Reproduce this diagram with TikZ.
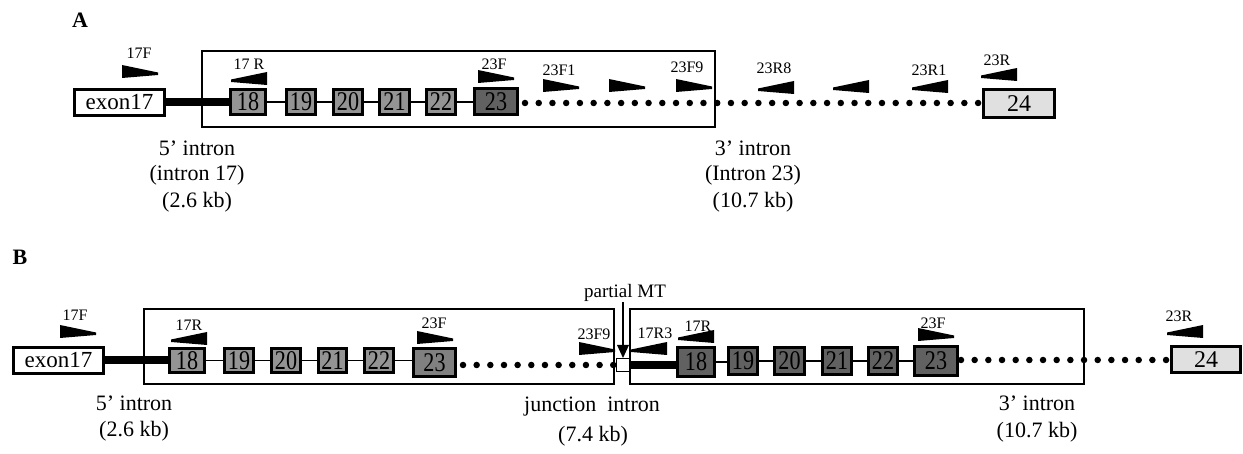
\documentclass[tikz,border=0pt]{standalone}
\usepackage{fontspec}
\setmainfont{Liberation Serif}
\newcommand{\exnum}[1]{\scalebox{0.82}[1]{#1}}
\begin{document}
\begin{tikzpicture}[x=1pt,y=-1pt,
  exon/.style={draw=black, line width=2.8pt, fill=black!42, inner sep=0pt,
    minimum width=35pt, minimum height=25pt, font=\fontsize{27}{27}\selectfont},
  exondark/.style={exon, fill=black!62},
  endexon/.style={exon, fill=white, font=\fontsize{23}{23}\selectfont},
  lastexon/.style={exon, fill=black!12, font=\fontsize{24}{24}\selectfont},
  primerlbl/.style={inner sep=0pt, font=\fontsize{16}{16}\selectfont},
  txt/.style={inner sep=0pt, font=\fontsize{22}{22}\selectfont},
  panel/.style={inner sep=0pt, font=\fontsize{22}{22}\selectfont\bfseries},
  regionbox/.style={draw=black, line width=1.3pt},
  thickline/.style={line width=8pt},
  thinline/.style={line width=1.4pt},
  dots/.style={line width=6.5pt, line cap=round},
  primerfwd/.pic={\fill (0,0) -- (0,13) -- (36,10) -- (36,7.5) -- cycle;},
  primerrev/.pic={\fill (36,0) -- (36,13) -- (0,10) -- (0,7.5) -- cycle;},
]
\useasboundingbox (0,0) rectangle (1243,454);

% ================= Panel A =================
\node[panel] (labA) at (80,20) {A};
\draw[regionbox] (202,51) rectangle (715,127);

\node[endexon, minimum width=90pt, minimum height=26pt] (a17) at (119.5,102.5) {exon17};
\node[exon, minimum width=35pt] (a18) at (248,102) {\exnum{18}};
\node[exon, minimum width=29pt] (a19) at (301,102) {\exnum{19}};
\node[exon, minimum width=29pt] (a20) at (348,102) {\exnum{20}};
\node[exon, minimum width=30pt] (a21) at (394.5,102) {\exnum{21}};
\node[exon, minimum width=29pt] (a22) at (441,102) {\exnum{22}};
\node[exondark, minimum width=43pt, minimum height=26pt] (a23) at (496,101.5) {\exnum{23}};
\node[lastexon, minimum width=71pt, minimum height=28pt] (a24) at (1019,103.5) {24};

\draw[thickline] (a17.east) -- (a17.east -| a18.west);
\draw[thinline] (a18.east) -- (a19.west);
\draw[thinline] (a19.east) -- (a20.west);
\draw[thinline] (a20.east) -- (a21.west);
\draw[thinline] (a21.east) -- (a22.west);
\draw[thinline] (a22.east) -- (a22.east -| a23.west);
\coordinate (dA0) at (525,103);
\draw[dots, dash pattern=on 0pt off 13.73pt] (dA0) -- (dA0 -| a24.west);

\node[primerlbl] (lA17F) at (139,53) {17F};
\node[primerlbl] (lA17R) at (249,64) {17 R};
\node[primerlbl] (lA23F) at (494,64) {23F};
\node[primerlbl] (lA23F1) at (559,70) {23F1};
\node[primerlbl] (lA23F9) at (687,67) {23F9};
\node[primerlbl] (lA23R8) at (774,68) {23R8};
\node[primerlbl] (lA23R1) at (929,70) {23R1};
\node[primerlbl] (lA23R) at (997,60) {23R};

\pic at (122,65) {primerfwd};
\pic at (231,72) {primerrev};
\pic at (478,70) {primerfwd};
\pic at (543,79) {primerfwd};
\pic at (609,79) {primerfwd};
\pic at (676,79) {primerfwd};
\pic at (758,81) {primerrev};
\pic at (833,80) {primerrev};
\pic at (912,80) {primerrev};
\pic at (981,68) {primerrev};

\node[txt] (tA1) at (197,148) {5’ intron};
\node[txt] (tA2) at (197,175) {(intron 17)};
\node[txt] (tA3) at (197,202) {(2.6 kb)};
\node[txt] (tA4) at (753,148) {3’ intron};
\node[txt] (tA5) at (753,175) {(Intron 23)};
\node[txt] (tA6) at (753,202) {(10.7 kb)};

% ================= Panel B =================
\node[panel] (labB) at (20,257) {B};
\draw[regionbox] (144,309) rectangle (614,384);
\draw[regionbox] (630,309) rectangle (1084,384);

\node[endexon, minimum width=90pt, minimum height=26pt] (b17) at (58.5,360.5) {exon17};
\node[exon, minimum width=35pt, minimum height=24pt] (b18) at (187,360.5) {\exnum{18}};
\node[exon, minimum width=29pt, minimum height=24pt] (b19) at (239,360.5) {\exnum{19}};
\node[exon, minimum width=29pt, minimum height=24pt] (b20) at (286,360.5) {\exnum{20}};
\node[exon, minimum width=28pt, minimum height=24pt] (b21) at (332.5,360.5) {\exnum{21}};
\node[exon, minimum width=29pt, minimum height=24pt] (b22) at (379,360.5) {\exnum{22}};
\node[exon, fill=black!50, minimum width=42pt, minimum height=28pt] (b23) at (434.5,362.5) {\exnum{23}};

\node[draw=black, line width=1.2pt, fill=white, minimum width=13pt, minimum height=13pt, inner sep=0pt] (jx) at (623,365) {};

\node[exondark, minimum width=37pt, minimum height=29pt] (c18) at (696,362) {\exnum{18}};
\node[exondark, minimum width=29pt, minimum height=27pt] (c19) at (743,361) {\exnum{19}};
\node[exondark, minimum width=30pt, minimum height=27pt] (c20) at (789.5,361) {\exnum{20}};
\node[exondark, minimum width=29pt, minimum height=27pt] (c21) at (837,361) {\exnum{21}};
\node[exondark, minimum width=29pt, minimum height=27pt] (c22) at (883,361) {\exnum{22}};
\node[exondark, minimum width=43pt, minimum height=29pt] (c23) at (936,361) {\exnum{23}};
\node[lastexon, minimum width=69pt, minimum height=26pt] (c24) at (1206,359.5) {24};

\draw[thickline] (b17.east) -- (b17.east -| b18.west);
\draw[thinline] (b18.east) -- (b19.west);
\draw[thinline] (b19.east) -- (b20.west);
\draw[thinline] (b20.east) -- (b21.west);
\draw[thinline] (b21.east) -- (b22.west);
\draw[thinline] (b22.east) -- (b22.east -| b23.west);
\coordinate (dB0) at (463,365);
\draw[dots, dash pattern=on 0pt off 13.66pt] (dB0) -- (dB0 -| jx.west);

\draw[thickline] (jx.east) -- (jx.east -| c18.west);
\draw[thinline] (c18.east) -- (c18.east -| c19.west);
\draw[thinline] (c19.east) -- (c20.west);
\draw[thinline] (c20.east) -- (c21.west);
\draw[thinline] (c21.east) -- (c22.west);
\draw[thinline] (c22.east) -- (c23.west);
\coordinate (dC0) at (961,360);
\draw[dots, dash pattern=on 0pt off 13.67pt] (dC0) -- (dC0 -| c24.west);

% partial MT pointer
\node[inner sep=0pt, font=\fontsize{19}{19}\selectfont] (pmt) at (625,293) {partial MT};
\coordinate (pmtTip) at (623,358);
\draw[line width=1.2pt] (pmt.south -| pmtTip) -- (623,346);
\fill (617,345) -- (629,345) -- (pmtTip) -- cycle;

\node[primerlbl] (lB17F) at (75,315) {17F};
\node[primerlbl] (lB17R) at (189,325) {17R};
\node[primerlbl] (lB23F) at (434,323) {23F};
\node[primerlbl] (lB23F9) at (594,334) {23F9};
\node[primerlbl] (lB17R3) at (655,333) {17R3};
\node[primerlbl] (lC17R) at (698,326) {17R};
\node[primerlbl] (lC23F) at (933,323) {23F};
\node[primerlbl] (lC23R) at (1179,316) {23R};

\pic at (60,325) {primerfwd};
\pic at (171,332) {primerrev};
\pic at (417,331) {primerfwd};
\pic at (579,342) {primerfwd};
\pic at (631,342) {primerrev};
\pic at (678,330) {primerrev};
\pic at (918,328) {primerfwd};
\pic at (1167,325) {primerrev};

\node[txt] (tB1) at (134,403) {5’ intron};
\node[txt] (tB2) at (134,431) {(2.6 kb)};
\node[txt] (tB3) at (592,407) {junction\ \ intron};
\node[txt] (tB4) at (593,436) {(7.4 kb)};
\node[txt] (tB5) at (1037,403) {3’ intron};
\node[txt] (tB6) at (1037,432) {(10.7 kb)};
\end{tikzpicture}
\end{document}
